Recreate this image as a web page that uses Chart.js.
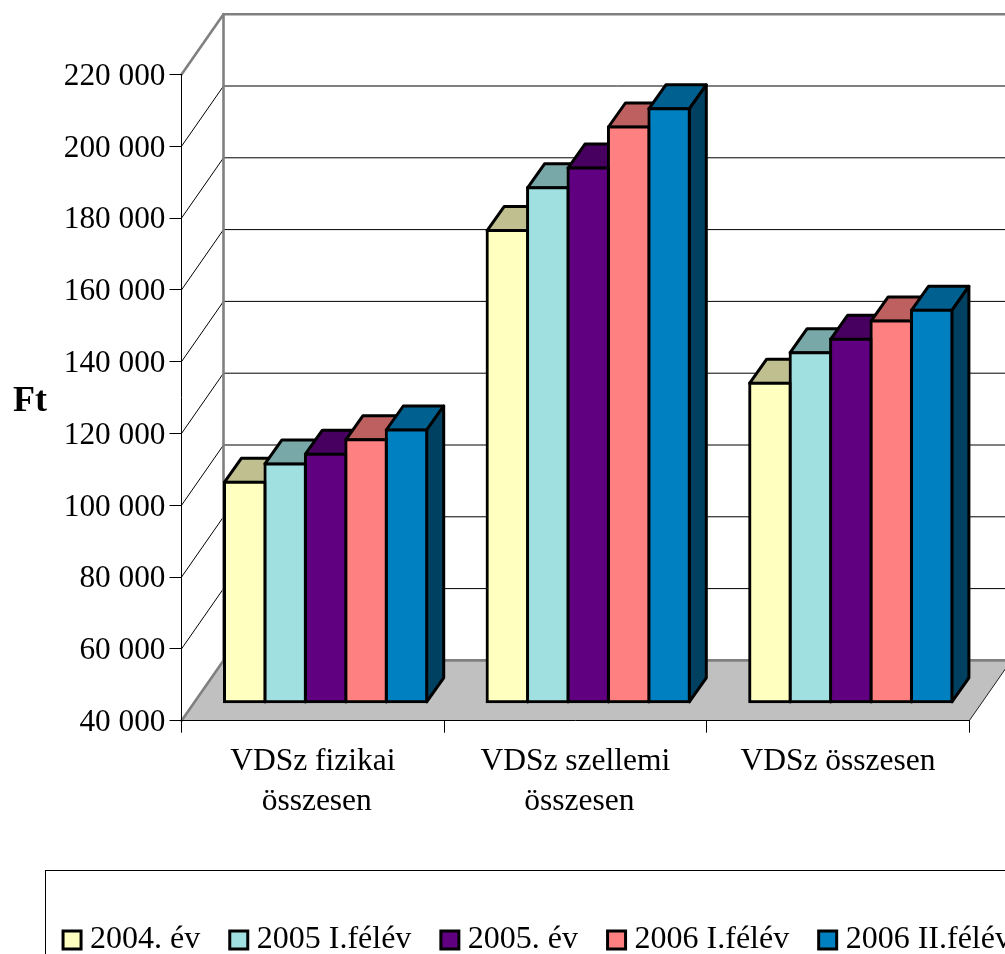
<!DOCTYPE html>
<html>
<head>
<meta charset="utf-8">
<title>VDSz</title>
<script src="https://cdn.jsdelivr.net/npm/chart.js@4/dist/chart.umd.min.js"></script>
<style>
html, body { margin: 0; padding: 0; background: #fff; overflow: hidden; }
#wrap { width: 1005px; height: 954px; overflow: hidden; position: relative; }
canvas { display: block; }
</style>
</head>
<body>
<div id="wrap"><canvas id="chart_bars" width="1081" height="966"></canvas></div>
<script>
// Data
const categories = [["VDSz fizikai", " összesen"], ["VDSz szellemi", " összesen"], "VDSz összesen"]
const series_names = ["2004. év", "2005 I.félév", "2005. év", "2006 I.félév", "2006 II.félév"]
const values_2004 = [101300, 171400, 128900]
const values_2005_1 = [106400, 183300, 137400]
const values_2005 = [109100, 188800, 141100]
const values_2006_1 = [113100, 200250, 146200]
const values_2006_2 = [115850, 205300, 149200]
const all_values = [values_2004, values_2005_1, values_2005, values_2006_1, values_2006_2]
const y_min = 40000, y_max = 220000, y_step = 20000

const front_colors = ["#FFFFC0", "#A0E0E0", "#600080", "#FF8080", "#0080C0"]
const top_colors = ["#BFBF90", "#78A8A8", "#480060", "#BF6060", "#006090"]
const side_colors = ["#808060", "#507070", "#300040", "#804040", "#004060"]

// 3D look: depth of the walls, offset of the bars on the floor, depth of a bar
const wall_dx = 42, wall_dy = 60.3
const shift_dx = 12.8, shift_dy = 18.4
const bar_dx = 17, bar_dy = 24
const font_name = "'Liberation Serif', 'Times New Roman', serif"

function poly(ctx, pts, fill, stroke, width) {
  ctx.beginPath()
  pts.forEach((p, i) => i ? ctx.lineTo(p[0], p[1]) : ctx.moveTo(p[0], p[1]))
  ctx.closePath()
  if (fill) { ctx.fillStyle = fill; ctx.fill() }
  if (stroke) { ctx.strokeStyle = stroke; ctx.lineWidth = width; ctx.stroke() }
}

function line(ctx, x1, y1, x2, y2, color, width) {
  ctx.beginPath()
  ctx.moveTo(x1, y1)
  ctx.lineTo(x2, y2)
  ctx.strokeStyle = color
  ctx.lineWidth = width
  ctx.stroke()
}

const walls3d = {
  id: 'walls3d',
  beforeDraw(chart) {
    const ctx = chart.ctx, a = chart.chartArea, y = chart.scales.y
    const bx = a.left + wall_dx, rx = a.right + wall_dx
    ctx.save()
    // floor
    poly(ctx, [[a.left, a.bottom], [bx, a.bottom - wall_dy], [rx, a.bottom - wall_dy], [a.right, a.bottom]], "#C0C0C0")
    line(ctx, a.right, a.bottom, rx, a.bottom - wall_dy, "#222", 1)
    // grid on both walls
    for (let v = y_min + y_step; v < y_max; v += y_step) {
      const py = y.getPixelForValue(v)
      line(ctx, a.left, py, bx, py - wall_dy, "#000", 1)
      line(ctx, bx, py - wall_dy, rx, py - wall_dy, "#000", 1)
    }
    // wall edges
    const top = y.getPixelForValue(y_max), low = y.getPixelForValue(y_min)
    ctx.lineCap = 'round'
    line(ctx, a.left, top, bx, top - wall_dy, "#808080", 2.6)
    line(ctx, a.left, low, bx, low - wall_dy, "#808080", 2.6)
    line(ctx, bx, top - wall_dy, bx, low - wall_dy, "#808080", 2.6)
    line(ctx, bx, top - wall_dy, rx, top - wall_dy, "#808080", 2.6)
    line(ctx, bx, low - wall_dy, rx, low - wall_dy, "#808080", 2.6)
    // axis title stays horizontal
    ctx.fillStyle = "#000"
    ctx.font = "bold 36px " + font_name
    ctx.textAlign = 'left'
    ctx.textBaseline = 'alphabetic'
    ctx.fillText("Ft", 13, 411)
    ctx.restore()
  },
  beforeDatasetsDraw(chart) {
    const ctx = chart.ctx
    ctx.save()
    ctx.lineJoin = 'round'
    for (let c = 0; c < categories.length; c++) {
      for (let d = 0; d < series_names.length; d++) {
        const el = chart.getDatasetMeta(d).data[c]
        const x1 = el.x - el.width / 2 + shift_dx, x2 = el.x + el.width / 2 + shift_dx
        const t = el.y - shift_dy, b = el.base - shift_dy
        poly(ctx, [[x1, t], [x1 + bar_dx, t - bar_dy], [x2 + bar_dx, t - bar_dy], [x2, t]], top_colors[d], "#000", 3)
        poly(ctx, [[x2, t], [x2 + bar_dx, t - bar_dy], [x2 + bar_dx, b - bar_dy], [x2, b]], side_colors[d], "#000", 3)
      }
    }
    ctx.restore()
    // the front faces sit further in on the floor
    ctx.save()
    ctx.translate(shift_dx, -shift_dy)
  },
  afterDatasetsDraw(chart) {
    chart.ctx.restore()
  },
  afterDraw(chart) {
    // legend frame, runs off the page like the original
    const ctx = chart.ctx
    ctx.save()
    ctx.strokeStyle = "#000"
    ctx.lineWidth = 1
    ctx.strokeRect(45.5, 870.5, 1020, 200)
    ctx.restore()
  }
}

var config = {
  type: 'bar',
  data: {
    labels: categories,
    datasets: series_names.map((name, i) => ({
      label: name,
      data: all_values[i],
      base: y_min,
      backgroundColor: front_colors[i],
      borderColor: "#000",
      borderWidth: 3,
      borderSkipped: false,
      inflateAmount: 1.5,
      categoryPercentage: 0.77,
      barPercentage: 1,
      clip: false
    }))
  },
  options: {
    responsive: false,
    animation: false,
    layout: { autoPadding: false, padding: { top: 74.5 } },
    plugins: {
      title: { display: false },
      tooltip: { enabled: false },
      legend: {
        display: true,
        position: 'bottom',
        labels: {
          color: "#000",
          font: { family: font_name, size: 32 },
          usePointStyle: true,
          pointStyle: 'rect',
          boxWidth: 4,
          boxHeight: 18,
          padding: 36.5
        }
      }
    },
    scales: {
      x: {
        grid: { drawOnChartArea: false, color: "#000", tickLength: 12 },
        border: { color: "#000" },
        ticks: {
          color: "#000",
          maxRotation: 0,
          autoSkip: false,
          padding: 9,
          font: { family: font_name, size: 31.5, lineHeight: 1.27 }
        },
        afterFit: s => { s.height = 166.8 }
      },
      y: {
        min: y_min,
        max: y_max,
        grid: { drawOnChartArea: false, color: "#000", tickLength: 12 },
        border: { color: "#000" },
        ticks: {
          stepSize: y_step,
          color: "#000",
          padding: 4,
          labelOffset: 2,
          font: { family: font_name, size: 31.3 },
          callback: v => String(v).replace(/\B(?=(\d{3})+$)/g, " ")
        },
        afterFit: s => { s.width = 181.5 }
      },
      // empty axis, keeps the plot narrower than the legend row
      right_space: {
        type: 'linear',
        position: 'right',
        grid: { display: false },
        border: { display: false },
        ticks: { display: false },
        afterFit: s => { s.width = 111.7 }
      }
    }
  },
  plugins: [walls3d]
};

var ctx = document.getElementById("chart_bars");
var ch_bars = new Chart(ctx, config);
</script>
</body>
</html>
